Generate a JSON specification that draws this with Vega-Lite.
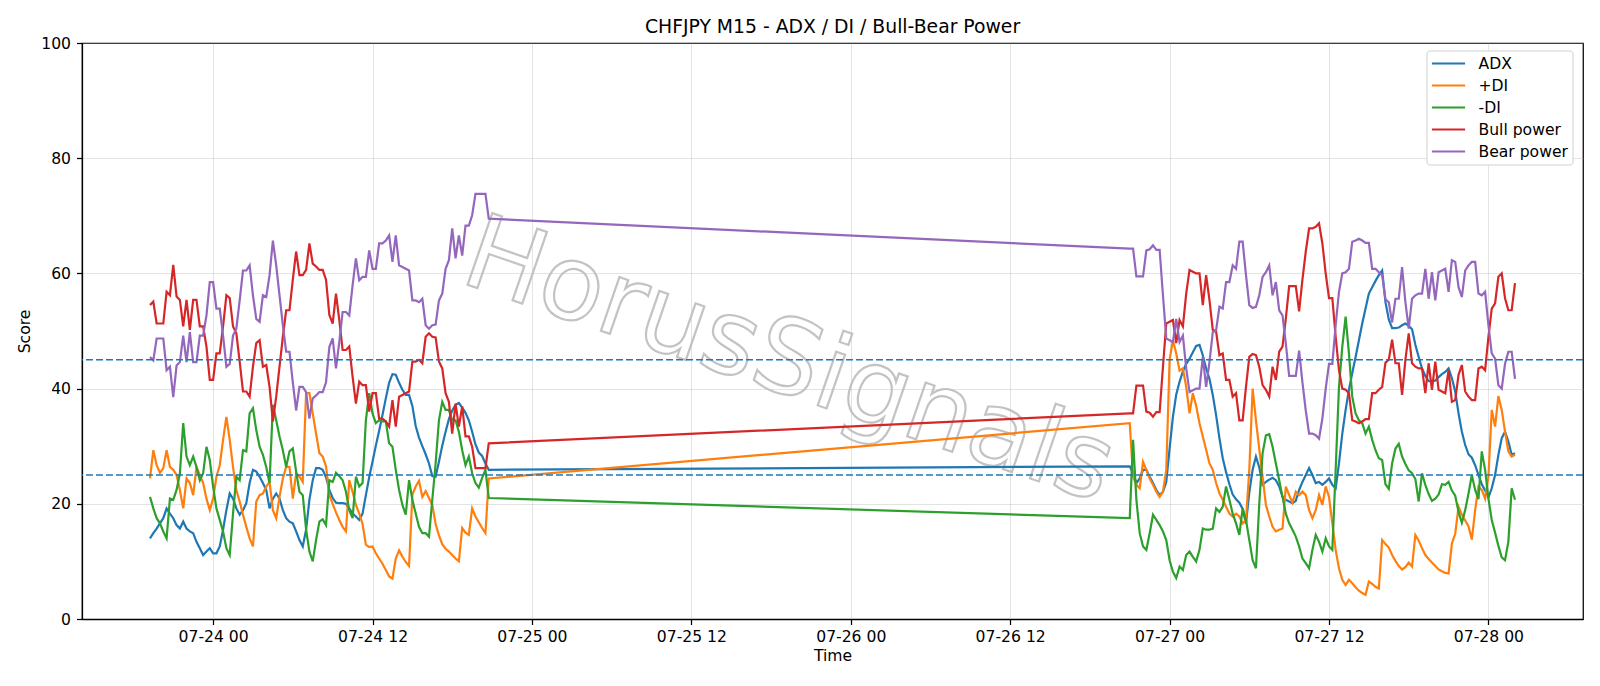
{
"$schema":"https://vega.github.io/schema/vega-lite/v6.json",
"autosize":{"type":"none"},
"padding":{"left":82,"top":43,"right":17,"bottom":67},
"width":1501,"height":576,
"background":"white",
"title":{"text":"CHFJPY M15 - ADX / DI / Bull-Bear Power","fontSize":18.8,"fontWeight":"normal","color":"black","offset":-1},
"config":{"font":"DejaVu Sans","view":{"stroke":"black","strokeWidth":1.25},
"axis":{"domainColor":"black","domainWidth":1.25,"tickColor":"black","tickWidth":1.25,"tickSize":5.5,"labelFontSize":15.6,"labelColor":"black","titleFontSize":15.6,"titleFontWeight":"normal","titleColor":"black","gridColor":"#b0b0b0","gridOpacity":0.35,"gridWidth":1}},
"datasets":{
"names":[{"key":"adx","name":"ADX"},{"key":"pdi","name":"+DI"},{"key":"mdi","name":"-DI"},{"key":"bull","name":"Bull power"},{"key":"bear","name":"Bear power"}],
"s":[
{"t":"2025-07-23T19:15","adx":14.0,"pdi":24.4,"mdi":21.2,"bull":54.5,"bear":45.5},
{"t":"2025-07-23T19:30","adx":14.9,"pdi":29.3,"mdi":19.2,"bull":55.1,"bear":44.9},
{"t":"2025-07-23T19:45","adx":15.7,"pdi":26.7,"mdi":17.5,"bull":51.3,"bear":48.7},
{"t":"2025-07-23T20:00","adx":16.6,"pdi":25.4,"mdi":16.6,"bull":51.3,"bear":48.7},
{"t":"2025-07-23T20:15","adx":17.5,"pdi":26.2,"mdi":15.2,"bull":51.3,"bear":48.7},
{"t":"2025-07-23T20:30","adx":19.2,"pdi":29.3,"mdi":14.0,"bull":56.8,"bear":43.2},
{"t":"2025-07-23T20:45","adx":18.3,"pdi":26.4,"mdi":20.9,"bull":56.2,"bear":43.8},
{"t":"2025-07-23T21:00","adx":17.5,"pdi":25.9,"mdi":20.7,"bull":61.5,"bear":38.5},
{"t":"2025-07-23T21:15","adx":16.3,"pdi":25.0,"mdi":22.4,"bull":56.0,"bear":44.0},
{"t":"2025-07-23T21:30","adx":15.7,"pdi":22.4,"mdi":25.3,"bull":55.4,"bear":44.6},
{"t":"2025-07-23T21:45","adx":16.9,"pdi":19.2,"mdi":34.0,"bull":50.8,"bear":49.2},
{"t":"2025-07-23T22:00","adx":15.7,"pdi":24.4,"mdi":28.2,"bull":55.4,"bear":44.6},
{"t":"2025-07-23T22:15","adx":15.2,"pdi":23.6,"mdi":26.7,"bull":50.2,"bear":49.8},
{"t":"2025-07-23T22:30","adx":14.9,"pdi":21.5,"mdi":28.2,"bull":55.4,"bear":44.6},
{"t":"2025-07-23T22:45","adx":13.4,"pdi":26.4,"mdi":26.4,"bull":55.4,"bear":44.6},
{"t":"2025-07-23T23:00","adx":12.3,"pdi":25.0,"mdi":24.1,"bull":50.8,"bear":49.2},
{"t":"2025-07-23T23:15","adx":11.1,"pdi":23.6,"mdi":25.3,"bull":50.8,"bear":49.2},
{"t":"2025-07-23T23:30","adx":11.7,"pdi":20.9,"mdi":29.9,"bull":47.3,"bear":52.7},
{"t":"2025-07-23T23:45","adx":12.3,"pdi":18.9,"mdi":27.6,"bull":41.5,"bear":58.5},
{"t":"2025-07-24T00:00","adx":11.4,"pdi":20.9,"mdi":23.0,"bull":41.5,"bear":58.5},
{"t":"2025-07-24T00:15","adx":11.4,"pdi":24.7,"mdi":19.2,"bull":46.1,"bear":53.9},
{"t":"2025-07-24T00:30","adx":12.6,"pdi":26.7,"mdi":17.2,"bull":46.1,"bear":53.9},
{"t":"2025-07-24T00:45","adx":15.5,"pdi":31.1,"mdi":15.2,"bull":50.8,"bear":49.2},
{"t":"2025-07-24T01:00","adx":18.9,"pdi":35.1,"mdi":12.3,"bull":56.2,"bear":43.8},
{"t":"2025-07-24T01:15","adx":21.8,"pdi":31.1,"mdi":11.1,"bull":55.7,"bear":44.3},
{"t":"2025-07-24T01:30","adx":20.9,"pdi":26.4,"mdi":18.3,"bull":50.8,"bear":49.2},
{"t":"2025-07-24T01:45","adx":19.2,"pdi":22.4,"mdi":24.7,"bull":49.6,"bear":50.4},
{"t":"2025-07-24T02:00","adx":18.1,"pdi":20.4,"mdi":24.1,"bull":44.7,"bear":55.3},
{"t":"2025-07-24T02:15","adx":18.9,"pdi":18.1,"mdi":29.3,"bull":39.5,"bear":60.5},
{"t":"2025-07-24T02:30","adx":20.1,"pdi":16.0,"mdi":29.1,"bull":39.5,"bear":60.5},
{"t":"2025-07-24T02:45","adx":23.6,"pdi":14.0,"mdi":35.7,"bull":38.6,"bear":61.4},
{"t":"2025-07-24T03:00","adx":25.9,"pdi":12.6,"mdi":36.6,"bull":43.8,"bear":56.2},
{"t":"2025-07-24T03:15","adx":25.6,"pdi":20.4,"mdi":32.8,"bull":47.9,"bear":52.1},
{"t":"2025-07-24T03:30","adx":24.7,"pdi":21.5,"mdi":29.9,"bull":48.4,"bear":51.6},
{"t":"2025-07-24T03:45","adx":23.6,"pdi":21.8,"mdi":28.5,"bull":43.8,"bear":56.2},
{"t":"2025-07-24T04:00","adx":22.4,"pdi":23.0,"mdi":26.4,"bull":44.1,"bear":55.9},
{"t":"2025-07-24T04:15","adx":19.2,"pdi":23.8,"mdi":23.6,"bull":40.3,"bear":59.7},
{"t":"2025-07-24T04:30","adx":20.9,"pdi":18.9,"mdi":37.2,"bull":34.3,"bear":65.7},
{"t":"2025-07-24T04:45","adx":21.8,"pdi":17.5,"mdi":34.5,"bull":38.6,"bear":61.4},
{"t":"2025-07-24T05:00","adx":20.9,"pdi":21.2,"mdi":31.7,"bull":43.8,"bear":56.2},
{"t":"2025-07-24T05:15","adx":18.9,"pdi":24.4,"mdi":29.3,"bull":49.0,"bear":51.0},
{"t":"2025-07-24T05:30","adx":17.5,"pdi":26.4,"mdi":26.4,"bull":53.6,"bear":46.4},
{"t":"2025-07-24T05:45","adx":16.9,"pdi":26.4,"mdi":29.1,"bull":53.6,"bear":46.4},
{"t":"2025-07-24T06:00","adx":16.6,"pdi":20.9,"mdi":29.6,"bull":58.9,"bear":41.1},
{"t":"2025-07-24T06:15","adx":15.2,"pdi":25.3,"mdi":25.6,"bull":63.8,"bear":36.2},
{"t":"2025-07-24T06:30","adx":13.7,"pdi":24.7,"mdi":22.1,"bull":59.7,"bear":40.3},
{"t":"2025-07-24T06:45","adx":12.6,"pdi":23.8,"mdi":21.5,"bull":59.7,"bear":40.3},
{"t":"2025-07-24T07:00","adx":15.5,"pdi":39.2,"mdi":15.5,"bull":60.6,"bear":39.4},
{"t":"2025-07-24T07:15","adx":20.7,"pdi":39.2,"mdi":11.7,"bull":65.2,"bear":34.8},
{"t":"2025-07-24T07:30","adx":24.1,"pdi":35.7,"mdi":10.0,"bull":61.7,"bear":38.3},
{"t":"2025-07-24T07:45","adx":26.2,"pdi":32.2,"mdi":13.7,"bull":61.2,"bear":38.8},
{"t":"2025-07-24T08:00","adx":26.2,"pdi":28.8,"mdi":16.9,"bull":60.6,"bear":39.4},
{"t":"2025-07-24T08:15","adx":25.9,"pdi":28.2,"mdi":17.3,"bull":60.6,"bear":39.4},
{"t":"2025-07-24T08:30","adx":24.6,"pdi":26.5,"mdi":16.3,"bull":58.9,"bear":41.1},
{"t":"2025-07-24T08:45","adx":22.4,"pdi":21.5,"mdi":24.1,"bull":52.8,"bear":47.2},
{"t":"2025-07-24T09:00","adx":21.0,"pdi":20.0,"mdi":23.8,"bull":51.3,"bear":48.7},
{"t":"2025-07-24T09:15","adx":20.2,"pdi":18.5,"mdi":25.4,"bull":56.5,"bear":43.5},
{"t":"2025-07-24T09:30","adx":20.1,"pdi":17.2,"mdi":24.8,"bull":51.9,"bear":48.1},
{"t":"2025-07-24T09:45","adx":20.1,"pdi":16.0,"mdi":24.1,"bull":46.7,"bear":53.3},
{"t":"2025-07-24T10:00","adx":20.0,"pdi":15.2,"mdi":22.1,"bull":46.7,"bear":53.3},
{"t":"2025-07-24T10:15","adx":19.2,"pdi":24.1,"mdi":18.9,"bull":47.3,"bear":52.7},
{"t":"2025-07-24T10:30","adx":18.3,"pdi":22.1,"mdi":17.5,"bull":42.1,"bear":57.9},
{"t":"2025-07-24T10:45","adx":17.8,"pdi":19.8,"mdi":24.7,"bull":37.4,"bear":62.6},
{"t":"2025-07-24T11:00","adx":17.2,"pdi":18.3,"mdi":23.0,"bull":41.2,"bear":58.8},
{"t":"2025-07-24T11:15","adx":18.3,"pdi":16.5,"mdi":23.6,"bull":40.6,"bear":59.4},
{"t":"2025-07-24T11:30","adx":21.5,"pdi":12.9,"mdi":34.5,"bull":40.6,"bear":59.4},
{"t":"2025-07-24T11:45","adx":24.6,"pdi":12.5,"mdi":39.2,"bull":36.0,"bear":64.0},
{"t":"2025-07-24T12:00","adx":27.3,"pdi":12.6,"mdi":35.7,"bull":39.2,"bear":60.8},
{"t":"2025-07-24T12:15","adx":30.1,"pdi":11.4,"mdi":34.0,"bull":39.2,"bear":60.8},
{"t":"2025-07-24T12:30","adx":32.7,"pdi":10.5,"mdi":34.5,"bull":34.8,"bear":65.2},
{"t":"2025-07-24T12:45","adx":35.4,"pdi":9.6,"mdi":34.3,"bull":34.8,"bear":65.2},
{"t":"2025-07-24T13:00","adx":38.3,"pdi":8.5,"mdi":34.3,"bull":34.3,"bear":65.7},
{"t":"2025-07-24T13:15","adx":41.0,"pdi":7.4,"mdi":30.5,"bull":33.4,"bear":66.6},
{"t":"2025-07-24T13:30","adx":42.5,"pdi":7.0,"mdi":29.9,"bull":38.0,"bear":62.0},
{"t":"2025-07-24T13:45","adx":42.4,"pdi":10.5,"mdi":25.9,"bull":33.4,"bear":66.6},
{"t":"2025-07-24T14:00","adx":41.0,"pdi":11.9,"mdi":22.4,"bull":38.6,"bear":61.4},
{"t":"2025-07-24T14:15","adx":39.8,"pdi":10.8,"mdi":19.8,"bull":38.9,"bear":61.1},
{"t":"2025-07-24T14:30","adx":38.9,"pdi":9.9,"mdi":18.1,"bull":39.2,"bear":60.8},
{"t":"2025-07-24T14:45","adx":38.9,"pdi":9.2,"mdi":24.1,"bull":39.5,"bear":60.5},
{"t":"2025-07-24T15:00","adx":37.0,"pdi":21.6,"mdi":20.7,"bull":44.7,"bear":55.3},
{"t":"2025-07-24T15:15","adx":33.5,"pdi":23.0,"mdi":18.3,"bull":44.7,"bear":55.3},
{"t":"2025-07-24T15:30","adx":31.5,"pdi":24.0,"mdi":16.0,"bull":45.0,"bear":55.0},
{"t":"2025-07-24T15:45","adx":30.0,"pdi":21.2,"mdi":14.9,"bull":44.4,"bear":55.6},
{"t":"2025-07-24T16:00","adx":28.6,"pdi":22.2,"mdi":14.9,"bull":49.0,"bear":51.0},
{"t":"2025-07-24T16:15","adx":27.0,"pdi":21.0,"mdi":14.3,"bull":49.6,"bear":50.4},
{"t":"2025-07-24T16:30","adx":24.8,"pdi":19.8,"mdi":20.7,"bull":49.0,"bear":51.0},
{"t":"2025-07-24T16:45","adx":24.7,"pdi":16.5,"mdi":27.0,"bull":48.9,"bear":51.1},
{"t":"2025-07-24T17:00","adx":27.3,"pdi":14.5,"mdi":34.5,"bull":44.7,"bear":55.3},
{"t":"2025-07-24T17:15","adx":30.1,"pdi":13.0,"mdi":37.7,"bull":43.5,"bear":56.5},
{"t":"2025-07-24T17:30","adx":32.5,"pdi":12.2,"mdi":36.3,"bull":39.2,"bear":60.8},
{"t":"2025-07-24T17:45","adx":34.7,"pdi":11.7,"mdi":36.3,"bull":37.7,"bear":62.3},
{"t":"2025-07-24T18:00","adx":36.2,"pdi":11.1,"mdi":34.5,"bull":32.2,"bear":67.8},
{"t":"2025-07-24T18:15","adx":37.2,"pdi":10.5,"mdi":34.5,"bull":37.4,"bear":62.6},
{"t":"2025-07-24T18:30","adx":37.5,"pdi":10.0,"mdi":32.5,"bull":33.4,"bear":66.6},
{"t":"2025-07-24T18:45","adx":36.7,"pdi":15.8,"mdi":29.3,"bull":36.9,"bear":63.1},
{"t":"2025-07-24T19:00","adx":35.8,"pdi":15.0,"mdi":26.7,"bull":31.7,"bear":68.3},
{"t":"2025-07-24T19:15","adx":34.5,"pdi":14.6,"mdi":28.2,"bull":31.7,"bear":68.3},
{"t":"2025-07-24T19:30","adx":32.5,"pdi":19.2,"mdi":25.3,"bull":29.9,"bear":70.1},
{"t":"2025-07-24T19:45","adx":30.3,"pdi":17.8,"mdi":23.6,"bull":26.2,"bear":73.8},
{"t":"2025-07-24T20:00","adx":28.9,"pdi":16.8,"mdi":22.8,"bull":26.2,"bear":73.8},
{"t":"2025-07-24T20:15","adx":28.3,"pdi":15.8,"mdi":24.5,"bull":26.2,"bear":73.8},
{"t":"2025-07-24T20:30","adx":27.0,"pdi":14.9,"mdi":25.9,"bull":26.2,"bear":73.8},
{"t":"2025-07-24T20:45","adx":25.9,"pdi":24.4,"mdi":21.0,"bull":30.5,"bear":69.5},
{"t":"2025-07-26T21:00","adx":26.5,"pdi":34.0,"mdi":17.5,"bull":35.7,"bear":64.3},
{"t":"2025-07-26T21:15","adx":25.3,"pdi":24.7,"mdi":31.1,"bull":35.7,"bear":64.3},
{"t":"2025-07-26T21:30","adx":23.6,"pdi":23.3,"mdi":20.7,"bull":40.5,"bear":59.5},
{"t":"2025-07-26T21:45","adx":24.4,"pdi":22.7,"mdi":14.9,"bull":40.5,"bear":59.5},
{"t":"2025-07-26T22:00","adx":25.9,"pdi":27.3,"mdi":12.6,"bull":40.5,"bear":59.5},
{"t":"2025-07-26T22:15","adx":25.9,"pdi":25.9,"mdi":12.0,"bull":36.0,"bear":64.0},
{"t":"2025-07-26T22:30","adx":24.7,"pdi":24.4,"mdi":14.9,"bull":35.8,"bear":64.2},
{"t":"2025-07-26T22:45","adx":23.6,"pdi":23.3,"mdi":18.1,"bull":35.1,"bear":64.9},
{"t":"2025-07-26T23:00","adx":22.4,"pdi":22.1,"mdi":17.2,"bull":35.9,"bear":64.1},
{"t":"2025-07-26T23:15","adx":21.5,"pdi":21.2,"mdi":16.3,"bull":35.9,"bear":64.1},
{"t":"2025-07-26T23:30","adx":22.1,"pdi":22.1,"mdi":15.2,"bull":43.8,"bear":56.2},
{"t":"2025-07-26T23:45","adx":23.8,"pdi":25.9,"mdi":13.7,"bull":51.3,"bear":48.7},
{"t":"2025-07-27T00:00","adx":29.6,"pdi":45.0,"mdi":10.2,"bull":51.6,"bear":48.4},
{"t":"2025-07-27T00:15","adx":35.1,"pdi":48.4,"mdi":8.2,"bull":51.9,"bear":48.1},
{"t":"2025-07-27T00:30","adx":39.0,"pdi":46.1,"mdi":7.1,"bull":47.9,"bear":52.1},
{"t":"2025-07-27T00:45","adx":41.2,"pdi":43.1,"mdi":9.1,"bull":51.9,"bear":48.1},
{"t":"2025-07-27T01:00","adx":43.0,"pdi":43.5,"mdi":8.5,"bull":50.8,"bear":49.2},
{"t":"2025-07-27T01:15","adx":44.3,"pdi":40.3,"mdi":11.1,"bull":56.5,"bear":43.5},
{"t":"2025-07-27T01:30","adx":45.2,"pdi":35.7,"mdi":11.7,"bull":60.6,"bear":39.4},
{"t":"2025-07-27T01:45","adx":46.3,"pdi":39.2,"mdi":10.8,"bull":60.3,"bear":39.7},
{"t":"2025-07-27T02:00","adx":47.4,"pdi":37.0,"mdi":10.0,"bull":60.0,"bear":40.0},
{"t":"2025-07-27T02:15","adx":47.6,"pdi":34.0,"mdi":12.0,"bull":60.0,"bear":40.0},
{"t":"2025-07-27T02:30","adx":45.8,"pdi":31.7,"mdi":15.7,"bull":54.5,"bear":45.5},
{"t":"2025-07-27T02:45","adx":43.5,"pdi":29.4,"mdi":15.5,"bull":59.7,"bear":40.3},
{"t":"2025-07-27T03:00","adx":41.7,"pdi":27.0,"mdi":15.5,"bull":55.4,"bear":44.6},
{"t":"2025-07-27T03:15","adx":38.9,"pdi":25.9,"mdi":15.7,"bull":50.2,"bear":49.8},
{"t":"2025-07-27T03:30","adx":35.4,"pdi":23.6,"mdi":19.2,"bull":49.9,"bear":50.1},
{"t":"2025-07-27T03:45","adx":31.4,"pdi":21.8,"mdi":18.6,"bull":45.8,"bear":54.2},
{"t":"2025-07-27T04:00","adx":27.9,"pdi":20.7,"mdi":19.5,"bull":46.1,"bear":53.9},
{"t":"2025-07-27T04:15","adx":25.5,"pdi":19.5,"mdi":23.0,"bull":41.5,"bear":58.5},
{"t":"2025-07-27T04:30","adx":23.4,"pdi":18.3,"mdi":20.7,"bull":41.5,"bear":58.5},
{"t":"2025-07-27T04:45","adx":21.6,"pdi":17.8,"mdi":18.3,"bull":38.6,"bear":61.4},
{"t":"2025-07-27T05:00","adx":20.8,"pdi":18.3,"mdi":16.6,"bull":39.2,"bear":60.8},
{"t":"2025-07-27T05:15","adx":20.2,"pdi":17.8,"mdi":14.6,"bull":34.5,"bear":65.5},
{"t":"2025-07-27T05:30","adx":19.1,"pdi":16.6,"mdi":19.2,"bull":34.5,"bear":65.5},
{"t":"2025-07-27T05:45","adx":16.6,"pdi":17.2,"mdi":17.2,"bull":40.3,"bear":59.7},
{"t":"2025-07-27T06:00","adx":22.0,"pdi":25.9,"mdi":13.7,"bull":45.5,"bear":54.5},
{"t":"2025-07-27T06:15","adx":25.9,"pdi":40.0,"mdi":10.2,"bull":46.0,"bear":54.0},
{"t":"2025-07-27T06:30","adx":28.2,"pdi":34.5,"mdi":8.8,"bull":45.8,"bear":54.2},
{"t":"2025-07-27T06:45","adx":26.3,"pdi":29.5,"mdi":20.0,"bull":43.8,"bear":56.2},
{"t":"2025-07-27T07:00","adx":23.3,"pdi":24.7,"mdi":28.8,"bull":40.6,"bear":59.4},
{"t":"2025-07-27T07:15","adx":23.8,"pdi":19.8,"mdi":31.9,"bull":39.8,"bear":60.2},
{"t":"2025-07-27T07:30","adx":24.2,"pdi":17.8,"mdi":32.1,"bull":38.6,"bear":61.4},
{"t":"2025-07-27T07:45","adx":24.5,"pdi":16.0,"mdi":29.9,"bull":43.8,"bear":56.2},
{"t":"2025-07-27T08:00","adx":24.1,"pdi":15.2,"mdi":27.0,"bull":41.5,"bear":58.5},
{"t":"2025-07-27T08:15","adx":23.0,"pdi":15.5,"mdi":24.1,"bull":46.4,"bear":53.6},
{"t":"2025-07-27T08:30","adx":21.2,"pdi":15.7,"mdi":21.2,"bull":47.3,"bear":52.7},
{"t":"2025-07-27T08:45","adx":20.7,"pdi":23.0,"mdi":18.3,"bull":52.2,"bear":47.8},
{"t":"2025-07-27T09:00","adx":20.4,"pdi":21.5,"mdi":16.6,"bull":57.8,"bear":42.2},
{"t":"2025-07-27T09:15","adx":20.1,"pdi":20.2,"mdi":15.5,"bull":57.8,"bear":42.2},
{"t":"2025-07-27T09:30","adx":20.5,"pdi":22.1,"mdi":14.3,"bull":57.8,"bear":42.2},
{"t":"2025-07-27T09:45","adx":22.4,"pdi":21.5,"mdi":12.6,"bull":53.4,"bear":46.6},
{"t":"2025-07-27T10:00","adx":23.8,"pdi":22.1,"mdi":10.5,"bull":58.9,"bear":41.1},
{"t":"2025-07-27T10:15","adx":25.0,"pdi":21.5,"mdi":9.7,"bull":63.8,"bear":36.2},
{"t":"2025-07-27T10:30","adx":26.2,"pdi":18.9,"mdi":8.8,"bull":67.8,"bear":32.2},
{"t":"2025-07-27T10:45","adx":25.0,"pdi":17.5,"mdi":12.0,"bull":67.8,"bear":32.2},
{"t":"2025-07-27T11:00","adx":23.6,"pdi":18.9,"mdi":14.6,"bull":68.1,"bear":31.9},
{"t":"2025-07-27T11:15","adx":23.8,"pdi":21.5,"mdi":13.4,"bull":68.7,"bear":31.3},
{"t":"2025-07-27T11:30","adx":23.3,"pdi":19.8,"mdi":11.7,"bull":65.2,"bear":34.8},
{"t":"2025-07-27T11:45","adx":23.8,"pdi":23.0,"mdi":14.0,"bull":60.0,"bear":40.0},
{"t":"2025-07-27T12:00","adx":24.4,"pdi":21.2,"mdi":12.6,"bull":55.7,"bear":44.3},
{"t":"2025-07-27T12:15","adx":23.3,"pdi":16.6,"mdi":12.0,"bull":55.7,"bear":44.3},
{"t":"2025-07-27T12:30","adx":22.7,"pdi":12.0,"mdi":25.9,"bull":49.0,"bear":51.0},
{"t":"2025-07-27T12:45","adx":27.0,"pdi":8.8,"mdi":40.3,"bull":43.2,"bear":56.8},
{"t":"2025-07-27T13:00","adx":32.2,"pdi":6.8,"mdi":47.3,"bull":40.0,"bear":60.0},
{"t":"2025-07-27T13:15","adx":36.3,"pdi":5.9,"mdi":52.5,"bull":39.8,"bear":60.2},
{"t":"2025-07-27T13:30","adx":39.8,"pdi":6.8,"mdi":46.1,"bull":39.2,"bear":60.8},
{"t":"2025-07-27T13:45","adx":42.7,"pdi":6.2,"mdi":38.6,"bull":34.5,"bear":65.5},
{"t":"2025-07-27T14:00","adx":45.5,"pdi":5.5,"mdi":35.7,"bull":34.3,"bear":65.7},
{"t":"2025-07-27T14:15","adx":48.4,"pdi":4.9,"mdi":34.5,"bull":34.0,"bear":66.0},
{"t":"2025-07-27T14:30","adx":51.3,"pdi":4.5,"mdi":34.0,"bull":34.3,"bear":65.7},
{"t":"2025-07-27T14:45","adx":53.9,"pdi":4.2,"mdi":32.2,"bull":34.7,"bear":65.3},
{"t":"2025-07-27T15:00","adx":56.5,"pdi":6.5,"mdi":33.4,"bull":34.7,"bear":65.3},
{"t":"2025-07-27T15:15","adx":57.6,"pdi":6.1,"mdi":31.1,"bull":39.2,"bear":60.8},
{"t":"2025-07-27T15:30","adx":58.7,"pdi":5.6,"mdi":29.3,"bull":39.2,"bear":60.8},
{"t":"2025-07-27T15:45","adx":59.7,"pdi":5.3,"mdi":27.9,"bull":39.8,"bear":60.2},
{"t":"2025-07-27T16:00","adx":60.5,"pdi":13.7,"mdi":27.6,"bull":40.3,"bear":59.7},
{"t":"2025-07-27T16:15","adx":55.0,"pdi":13.0,"mdi":23.4,"bull":44.5,"bear":55.5},
{"t":"2025-07-27T16:30","adx":52.0,"pdi":12.4,"mdi":22.6,"bull":45.0,"bear":55.0},
{"t":"2025-07-27T16:45","adx":50.5,"pdi":11.1,"mdi":27.0,"bull":48.5,"bear":51.5},
{"t":"2025-07-27T17:00","adx":50.5,"pdi":10.1,"mdi":29.6,"bull":44.4,"bear":55.6},
{"t":"2025-07-27T17:15","adx":50.6,"pdi":9.2,"mdi":30.4,"bull":44.4,"bear":55.6},
{"t":"2025-07-27T17:30","adx":51.0,"pdi":8.6,"mdi":28.2,"bull":38.9,"bear":61.1},
{"t":"2025-07-27T17:45","adx":51.3,"pdi":9.0,"mdi":26.9,"bull":45.0,"bear":55.0},
{"t":"2025-07-27T18:00","adx":50.9,"pdi":9.8,"mdi":25.8,"bull":49.6,"bear":50.4},
{"t":"2025-07-27T18:15","adx":50.3,"pdi":9.1,"mdi":25.3,"bull":44.4,"bear":55.6},
{"t":"2025-07-27T18:30","adx":47.6,"pdi":14.6,"mdi":24.3,"bull":43.8,"bear":56.2},
{"t":"2025-07-27T18:45","adx":45.5,"pdi":13.6,"mdi":20.4,"bull":43.5,"bear":56.5},
{"t":"2025-07-27T19:00","adx":43.5,"pdi":12.3,"mdi":25.3,"bull":43.5,"bear":56.5},
{"t":"2025-07-27T19:15","adx":42.2,"pdi":11.1,"mdi":23.3,"bull":39.2,"bear":60.8},
{"t":"2025-07-27T19:30","adx":41.3,"pdi":10.4,"mdi":21.7,"bull":44.4,"bear":55.6},
{"t":"2025-07-27T19:45","adx":41.2,"pdi":9.8,"mdi":20.5,"bull":39.8,"bear":60.2},
{"t":"2025-07-27T20:00","adx":41.4,"pdi":9.2,"mdi":20.9,"bull":44.7,"bear":55.3},
{"t":"2025-07-27T20:15","adx":42.0,"pdi":8.6,"mdi":21.6,"bull":39.8,"bear":60.2},
{"t":"2025-07-27T20:30","adx":42.5,"pdi":8.3,"mdi":23.4,"bull":39.5,"bear":60.5},
{"t":"2025-07-27T20:45","adx":42.9,"pdi":8.0,"mdi":23.3,"bull":39.2,"bear":60.8},
{"t":"2025-07-27T21:00","adx":43.5,"pdi":7.9,"mdi":23.8,"bull":43.2,"bear":56.8},
{"t":"2025-07-27T21:15","adx":41.8,"pdi":13.1,"mdi":22.3,"bull":37.7,"bear":62.3},
{"t":"2025-07-27T21:30","adx":39.5,"pdi":14.8,"mdi":21.4,"bull":38.0,"bear":62.0},
{"t":"2025-07-27T21:45","adx":35.7,"pdi":19.5,"mdi":18.6,"bull":42.4,"bear":57.6},
{"t":"2025-07-27T22:00","adx":32.5,"pdi":18.1,"mdi":16.7,"bull":44.1,"bear":55.9},
{"t":"2025-07-27T22:15","adx":30.2,"pdi":17.1,"mdi":18.9,"bull":39.5,"bear":60.5},
{"t":"2025-07-27T22:30","adx":28.6,"pdi":16.1,"mdi":21.8,"bull":38.6,"bear":61.4},
{"t":"2025-07-27T22:45","adx":28.0,"pdi":13.8,"mdi":25.0,"bull":38.0,"bear":62.0},
{"t":"2025-07-27T23:00","adx":26.7,"pdi":18.9,"mdi":22.4,"bull":38.0,"bear":62.0},
{"t":"2025-07-27T23:15","adx":25.0,"pdi":23.0,"mdi":20.8,"bull":43.5,"bear":56.5},
{"t":"2025-07-27T23:30","adx":23.4,"pdi":22.4,"mdi":29.1,"bull":43.8,"bear":56.2},
{"t":"2025-07-27T23:45","adx":22.3,"pdi":20.9,"mdi":25.9,"bull":43.2,"bear":56.8},
{"t":"2025-07-28T00:00","adx":21.1,"pdi":24.7,"mdi":20.9,"bull":49.0,"bear":51.0},
{"t":"2025-07-28T00:15","adx":22.7,"pdi":36.3,"mdi":17.2,"bull":53.9,"bear":46.1},
{"t":"2025-07-28T00:30","adx":25.0,"pdi":33.4,"mdi":15.0,"bull":54.8,"bear":45.2},
{"t":"2025-07-28T00:45","adx":28.5,"pdi":38.7,"mdi":12.7,"bull":59.4,"bear":40.6},
{"t":"2025-07-28T01:00","adx":31.4,"pdi":36.3,"mdi":10.7,"bull":60.0,"bear":40.0},
{"t":"2025-07-28T01:15","adx":32.5,"pdi":32.5,"mdi":10.2,"bull":55.7,"bear":44.3},
{"t":"2025-07-28T01:30","adx":30.8,"pdi":29.1,"mdi":13.4,"bull":53.6,"bear":46.4},
{"t":"2025-07-28T01:45","adx":28.5,"pdi":28.2,"mdi":22.7,"bull":53.6,"bear":46.4},
{"t":"2025-07-28T02:00","adx":28.8,"pdi":28.5,"mdi":20.7,"bull":58.3,"bear":41.7}
],
"lv":[{"y":25},{"y":45}],
"wm":[{"t":"2025-07-25T19:20","v":44.5,"label":"HorusSignals"}]
},
"layer":[
{"data":{"name":"wm"},"mark":{"type":"text","fontSize":104,"angle":19,"align":"center","baseline":"middle","fill":"white","fillOpacity":0.0,"stroke":"#bcbcbc","strokeWidth":2.2,"strokeOpacity":0.9},
"encoding":{"x":{"field":"t","type":"temporal"},"y":{"field":"v","type":"quantitative"},"text":{"field":"label","type":"nominal"}}},
{"data":{"name":"s"},
"transform":[{"fold":["adx","pdi","mdi","bull","bear"],"as":["key","value"]},{"lookup":"key","from":{"data":{"name":"names"},"key":"key","fields":["name"]}}],
"mark":{"type":"line","strokeWidth":2.2},
"encoding":{
"x":{"field":"t","type":"temporal","title":"Time","scale":{"padding":68},
 "axis":{"format":"%m-%d %H","tickCount":9,"labelPadding":4.5,"titlePadding":4,"grid":true,"labelFlush":false}},
"y":{"field":"value","type":"quantitative","title":"Score","scale":{"domain":[0,100],"nice":false},
 "axis":{"values":[0,20,40,60,80,100],"labelPadding":6,"titlePadding":8,"grid":true}},
"color":{"field":"name","type":"nominal","scale":{"domain":["ADX","+DI","-DI","Bull power","Bear power"],"range":["#1f77b4","#ff7f0e","#2ca02c","#d62728","#9467bd"]},
 "legend":{"title":null,"orient":"none","legendX":1344.5,"legendY":7.5,"symbolType":"stroke","symbolSize":1100,"symbolStrokeWidth":2.2,"labelFontSize":15.6,"labelColor":"black","labelOffset":12,"clipHeight":18,"rowPadding":4,"padding":4,"strokeColor":"#d0d0d0","fillColor":"white","cornerRadius":3}}
}},
{"data":{"name":"lv"},"mark":{"type":"rule","color":"#1f77b4","strokeWidth":1.6,"strokeDash":[7,3]},
"encoding":{"y":{"field":"y","type":"quantitative"}}}
]
}
